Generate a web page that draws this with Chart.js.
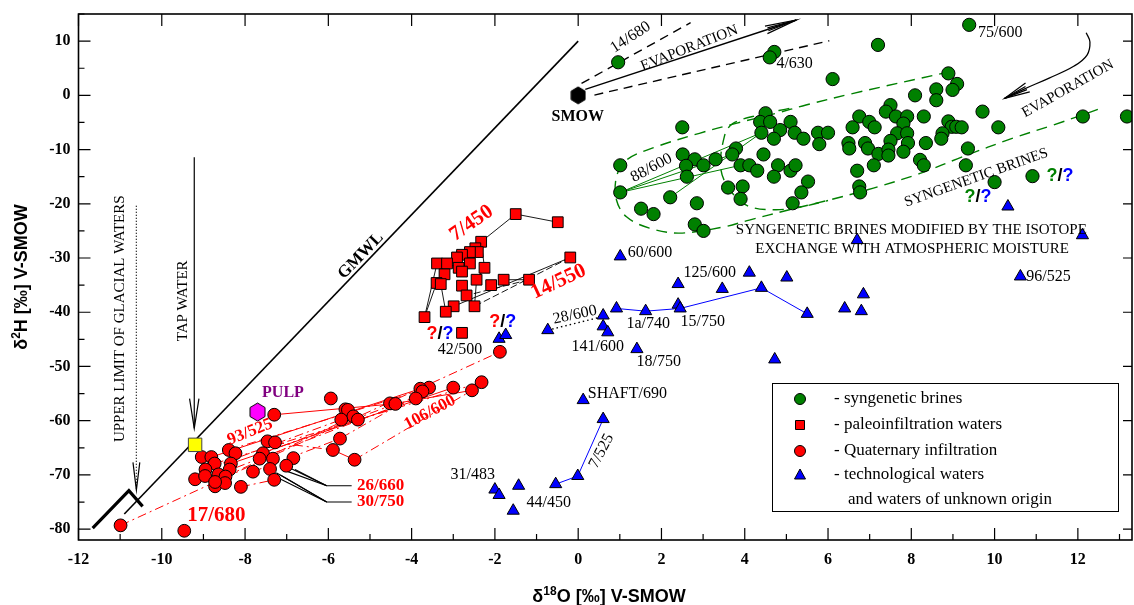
<!DOCTYPE html>
<html><head><meta charset="utf-8">
<script src="https://cdn.jsdelivr.net/npm/chart.js@4.4.1/dist/chart.umd.min.js"></script>
<style>html,body{margin:0;padding:0;background:#fff;overflow:hidden}canvas{display:block}</style>
</head><body>
<canvas id="c" width="1134" height="605"></canvas>
<script>
// ---------- tick labels ----------
const xTicks = [-12,-10,-8,-6,-4,-2,0,2,4,6,8,10,12];
const yTicks = [-80,-70,-60,-50,-40,-30,-20,-10,0,10];

// ---------- series values [d18O, d2H] ----------
const syngeneticBrines = [
 [0.96,6.1],[4.71,8.0],[4.60,7.0],[9.39,13.0],[7.20,9.3],[6.11,3.0],
 [4.50,-3.3],[4.37,-4.9],[4.61,-4.9],[5.10,-4.9],[2.50,-5.9],[4.40,-6.9],[4.85,-6.4],[4.70,-8.0],
 [5.20,-6.9],[5.41,-8.0],[5.76,-6.9],[6.00,-6.9],[5.79,-9.0],[3.79,-9.8],[3.70,-10.9],[3.30,-11.8],
 [4.45,-10.9],[2.51,-10.9],[2.80,-11.8],[3.01,-12.9],[2.59,-13.0],[2.61,-15.0],[3.90,-12.9],[4.11,-12.9],
 [4.30,-13.9],[4.80,-12.9],[4.70,-15.0],[5.10,-13.9],[5.22,-12.9],[5.52,-15.9],[5.36,-17.9],[5.15,-19.9],
 [3.60,-17.0],[3.95,-16.8],[3.90,-19.1],[1.01,-12.9],[1.01,-17.9],[2.21,-18.8],[2.85,-19.9],[1.51,-20.9],
 [1.81,-21.9],[2.80,-23.8],[3.01,-25.0],
 [6.75,-3.9],[6.59,-5.9],[6.99,-4.9],[6.49,-8.8],[6.51,-9.8],[6.89,-8.8],[6.96,-9.8],[6.70,-13.9],
 [6.75,-16.8],[6.77,-17.9],
 [8.89,4.05],[9.10,2.1],[8.99,1.0],[8.60,1.1],[8.60,-0.9],[8.09,0.0],[7.50,-1.8],[7.39,-3.0],[7.63,-3.9],
 [7.90,-3.9],[8.30,-3.9],[7.12,-5.9],[7.81,-5.2],[8.89,-4.8],[8.97,-5.8],[9.08,-5.8],[9.21,-5.9],[9.71,-3.0],
 [10.09,-5.9],[12.12,-3.9],[13.18,-3.9],[7.66,-7.0],[7.90,-7.0],[7.50,-8.4],[7.92,-8.8],[7.21,-10.8],
 [7.45,-10.0],[7.45,-11.1],[7.81,-10.4],[8.35,-8.8],[8.75,-7.0],[8.72,-8.0],[9.36,-9.8],[8.21,-11.9],
 [8.30,-12.9],[7.10,-12.9],[9.31,-12.9],[10.00,-16.0],[10.91,-14.9]
];
const paleoinfiltrationWaters = [
 [-1.50,-21.9],[-0.49,-23.4],[-0.19,-29.9],[-2.33,-27.0],[-2.47,-28.2],[-2.41,-28.9],[-2.60,-28.9],
 [-2.79,-29.4],[-2.91,-29.9],[-3.39,-31.0],[-3.15,-31.0],[-2.60,-31.0],[-2.87,-31.8],[-2.25,-31.8],
 [-2.79,-32.5],[-3.21,-33.0],[-2.44,-34.0],[-3.40,-34.6],[-3.30,-34.8],[-2.79,-35.1],[-2.09,-35.0],
 [-1.79,-34.0],[-1.18,-34.0],[-2.68,-36.9],[-2.99,-38.9],[-2.49,-38.9],[-3.18,-39.9],[-3.69,-40.9],
 [-2.79,-43.8]
];
const quaternaryInfiltration = [
 [-7.30,-58.9],[-5.94,-55.9],[-5.59,-57.9],[-5.53,-58.0],[-5.40,-59.2],[-5.29,-59.8],[-5.69,-59.8],
 [-4.52,-56.8],[-4.39,-56.9],[-5.72,-63.3],[-5.89,-65.4],[-5.37,-67.2],[-8.39,-65.4],[-8.23,-66.0],
 [-7.46,-63.8],[-7.28,-64.0],[-7.57,-66.0],[-7.65,-67.0],[-7.33,-67.0],[-6.84,-66.9],[-7.01,-68.3],
 [-7.40,-68.9],[-7.81,-69.4],[-7.30,-70.9],[-8.10,-72.2],[-9.04,-66.7],[-8.81,-66.7],[-8.73,-67.9],
 [-8.95,-69.0],[-8.34,-67.9],[-8.37,-69.0],[-9.20,-70.8],[-8.96,-70.2],[-8.64,-69.9],[-8.47,-70.3],
 [-8.72,-72.1],[-8.48,-71.5],[-8.72,-71.3],[-9.46,-80.3],[-10.99,-79.3],[-1.88,-47.3],[-2.32,-52.9],
 [-2.55,-54.4],[-3.00,-53.9],[-3.58,-53.9],[-3.79,-54.1],[-3.74,-54.6],[-3.90,-55.9]
];
const technologicalWaters = [
 [1.01,-29.7],[2.40,-34.8],[3.46,-35.7],[4.11,-32.7],[5.01,-33.6],[4.40,-35.5],[5.50,-40.3],[6.40,-39.3],
 [6.85,-36.7],[6.80,-39.8],[0.92,-39.3],[1.62,-39.8],[2.40,-38.6],[2.45,-39.3],[0.60,-40.6],[0.60,-42.6],
 [0.71,-43.7],[1.41,-46.8],[4.72,-48.7],[6.70,-26.7],[10.32,-20.5],[12.11,-25.8],[10.62,-33.4],
 [-1.90,-44.9],[-1.74,-44.2],[-0.73,-43.3],[0.12,-56.2],[0.60,-59.7],[-0.01,-70.2],[-0.54,-71.7],
 [-1.43,-72.0],[-2.00,-72.7],[-1.90,-73.7],[-1.56,-76.6]
];
const tapWater = [[-9.20,-64.45]];
const pulp = [[-7.70,-58.4]];
const smow = [[0,0]];

// ---------- reference lines and links ----------
const gmwl = [[-10.9,-77.2],[0,10]];
const glacialBracket = [[-11.66,-79.8],[-10.79,-72.9],[-10.46,-75.8]];
const tapArrow = [[-9.22,-11.4],[-9.22,-61.4]];
const glacialArrow = [[-10.61,-20.35],[-10.61,-72.8]];
const evapArrow = [[0.17,1.1],[5.24,13.9]];
const evapDashUpper = [[0.08,2.2],[2.70,13.4]];
const evapDashLower = [[0.39,0.05],[6.03,10.06]];
const evapCurve = [[12.20,11.54],[12.29,9.82],[12.22,7.43],[11.91,5.40],[11.31,3.19],[10.71,1.16],[10.24,-0.55]];
const envelopeOuter = [[8.93,4.35],[6.61,0.37],[5.47,-1.79],[4.75,-3.32],[3.79,-5.16],[2.91,-7.0],[1.88,-9.47],
 [1.16,-11.92],[0.92,-15.0],[0.92,-19.3],[1.16,-22.4],[1.71,-24.5],[2.43,-25.4],[3.47,-24.3],[4.11,-23.0],
 [5.07,-21.1],[6.03,-19.3],[7.09,-17.1],[8.21,-14.4],[9.24,-11.3],[10.44,-7.9],[11.40,-5.5],[12.48,-2.6]];
const envelopeInner = [[5.07,-2.4],[4.35,-3.6],[3.71,-5.2],[3.51,-7.6],[3.43,-13.8],[3.71,-18.1],[4.11,-20.5],
 [4.75,-21.1],[5.39,-20.5],[6.0,-19.4]];
const brineLinks = [
 [[1.01,-17.9],[4.40,-6.9]],[[1.01,-17.9],[3.70,-10.9]],[[1.01,-17.9],[3.90,-12.9]],[[2.21,-18.8],[4.40,-6.9]]
];
const paleoSolidLinks = [
 [[-2.33,-27.0],[-1.50,-21.9],[-0.49,-23.4]],[[-0.19,-29.9],[-2.99,-38.9]],[[-1.18,-34.0],[-1.79,-34.0]],
 [[-3.69,-40.9],[-3.40,-34.6],[-3.21,-33.0]],[[-3.69,-40.9],[-3.39,-31.0]],[[-3.18,-39.9],[-3.30,-34.8]],
 [[-2.49,-38.9],[-2.44,-34.0],[-2.25,-31.8],[-2.33,-27.0]],[[-3.39,-31.0],[-3.15,-31.0],[-2.87,-31.8]],
 [[-2.79,-35.1],[-2.68,-36.9]]
];
const paleoDashedLinks = [[[-0.19,-29.9],[-2.49,-38.9]],[[-1.18,-34.0],[-2.68,-36.9]]];
const quatSolidLinks = [
 [[-7.30,-58.9],[-4.45,-56.9],[-2.55,-54.4]],[[-8.81,-66.7],[-3.79,-54.1]],[[-8.34,-67.9],[-3.00,-53.9]],
 [[-5.89,-65.4],[-5.37,-67.2]],[[-5.53,-58.0],[-5.29,-59.8]]
];
const quatDashedLinks = [
 [[-10.99,-79.3],[-1.88,-47.3]],[[-8.39,-65.4],[-3.58,-53.9]],[[-8.73,-67.9],[-2.32,-52.9]],
 [[-8.64,-69.9],[-3.90,-55.9]],[[-8.47,-70.3],[-5.40,-59.2]],[[-7.28,-64.0],[-5.89,-65.4]],
 [[-5.37,-67.2],[-2.55,-54.4]],[[-7.81,-69.4],[-5.72,-63.3],[-3.74,-54.6]],[[-8.10,-72.2],[-7.30,-70.9]],
 [[-7.57,-66.0],[-4.39,-56.9]],[[-8.95,-69.0],[-5.69,-59.8]]
];
const techLinks = [
 [[0.92,-39.3],[1.62,-39.8],[2.45,-39.3],[4.40,-35.5],[5.50,-40.3]],[[-0.54,-71.7],[-0.01,-70.2],[0.60,-59.7]]
];
const techDotted = [[-0.73,-43.3],[0.59,-40.8]];
const leaderLines = [
 [[-6.9,-68.8],[-6.04,-72.0],[-5.44,-72.0]],[[-7.0,-69.3],[-6.04,-72.0]],[[-6.8,-69.0],[-6.04,-72.0]],
 [[-7.25,-69.6],[-6.04,-75.0],[-5.44,-75.0]],[[-7.15,-70.0],[-6.04,-75.0]],[[-7.3,-70.2],[-6.04,-75.0]]
];

// ---------- helpers ----------
const P = a => a.map(p => ({x:p[0], y:p[1]}));
function hexImg(w,h,fill,stroke){
  const c=document.createElement('canvas'); c.width=w+2; c.height=h+2;
  const g=c.getContext('2d'); const cx=(w+2)/2, cy=(h+2)/2;
  g.beginPath();
  for(let i=0;i<6;i++){const a=Math.PI/3*i-Math.PI/2; const px=cx+Math.cos(a)*w/2/Math.cos(Math.PI/6), py=cy+Math.sin(a)*h/2;
    if(i===0) g.moveTo(px,py); else g.lineTo(px,py);}
  g.closePath(); g.fillStyle=fill; g.fill(); g.lineWidth=1; g.strokeStyle=stroke; g.stroke();
  return c;
}
function pts(data, style, r, fill, stroke, bw){
  return {data:P(data), pointStyle:style, pointRadius:r, pointBackgroundColor:fill, pointBorderColor:stroke,
    pointBorderWidth:bw===undefined?1:bw, showLine:false, order:1};
}
function line(data, color, width, dash, tension){
  return {data:P(data), showLine:true, pointRadius:0, borderColor:color, borderWidth:width,
    borderDash:dash||[], tension:tension||0, fill:false, order:5};
}
const datasets = [
  pts(smow, hexImg(14,17,'#000','#000'), 9, '#000', '#000'),
  pts(pulp, hexImg(15,18,'#ff00ff','#000'), 9, '#f0f', '#000'),
  pts(tapWater, 'rect', 9.5, '#ffff00', '#444'),
  pts(technologicalWaters, 'triangle', 7, '#0000ff', '#000'),
  pts(quaternaryInfiltration, 'circle', 6.4, '#ff0000', '#000'),
  pts(paleoinfiltrationWaters, 'rect', 7.6, '#ff0000', '#000'),
  pts(syngeneticBrines, 'circle', 6.6, '#008000', '#000'),
  line(gmwl,'#000',1.6),
  line(glacialBracket,'#000',3.2),
  line(tapArrow,'#000',1.2),
  line(glacialArrow,'#000',1.3,[1,2]),
  line(evapArrow,'#000',1.4),
  line(evapDashUpper,'#000',1.4,[9,6]),
  line(evapDashLower,'#000',1.4,[9,6]),
  line(evapCurve,'#000',1.3,[],0.4),
  line(envelopeOuter,'#008000',1.4,[11,7],0.35),
  line(envelopeInner,'#008000',1.4,[11,7],0.35),
  line(techDotted,'#000',1.4,[1.5,3]),
];
brineLinks.forEach(l=>datasets.push(line(l,'#008000',1)));
paleoSolidLinks.forEach(l=>datasets.push(line(l,'#000',0.9)));
paleoDashedLinks.forEach(l=>datasets.push(line(l,'#000',0.9,[7,3])));
quatSolidLinks.forEach(l=>datasets.push(line(l,'#ff0000',1)));
quatDashedLinks.forEach(l=>datasets.push(line(l,'#ff0000',1,[9,4,2,4])));
techLinks.forEach(l=>datasets.push(line(l,'#0000ff',1)));
leaderLines.forEach(l=>datasets.push(line(l,'#000',1.1)));

// ---------- text annotations (data coords) ----------
const SERIF='"Liberation Serif","Times New Roman",serif';
const annotations = [
 {t:'SMOW',x:-0.01,y:-4.0,f:'bold 16px '+SERIF},
 {t:'GMWL',x:-5.22,y:-29.6,r:-46,f:'bold 17px '+SERIF},
 {t:'PULP',x:-7.09,y:-54.9,f:'bold 16px '+SERIF,c:'#800080'},
 {t:'7/450',x:-2.56,y:-23.6,r:-35,f:'bold 21px '+SERIF,c:'#ff0000'},
 {t:'14/550',x:-0.47,y:-34.4,r:-25,f:'bold 21px '+SERIF,c:'#ff0000'},
 {t:'93/525',x:-7.88,y:-62.1,r:-22,f:'bold 17px '+SERIF,c:'#ff0000'},
 {t:'106/600',x:-3.56,y:-58.5,r:-28,f:'bold 17px '+SERIF,c:'#ff0000'},
 {t:'17/680',x:-8.69,y:-77.5,f:'bold 21px '+SERIF,c:'#ff0000'},
 {t:'26/660',x:-5.31,y:-72.0,a:'left',f:'bold 17px '+SERIF,c:'#ff0000'},
 {t:'30/750',x:-5.31,y:-75.0,a:'left',f:'bold 17px '+SERIF,c:'#ff0000'},
 {t:'42/500',x:-2.84,y:-46.9,f:'16px '+SERIF},
 {t:'28/600',x:-0.08,y:-40.5,r:-12,f:'16px '+SERIF},
 {t:'141/600',x:0.47,y:-46.4,f:'16px '+SERIF},
 {t:'60/600',x:1.19,y:-29.1,a:'left',f:'16px '+SERIF},
 {t:'125/600',x:2.53,y:-32.8,a:'left',f:'16px '+SERIF},
 {t:'1a/740',x:1.16,y:-42.1,a:'left',f:'16px '+SERIF},
 {t:'15/750',x:2.46,y:-41.8,a:'left',f:'16px '+SERIF},
 {t:'18/750',x:1.40,y:-49.1,a:'left',f:'16px '+SERIF},
 {t:'96/525',x:10.76,y:-33.5,a:'left',f:'16px '+SERIF},
 {t:'SHAFT/690',x:0.23,y:-55.0,a:'left',f:'16px '+SERIF},
 {t:'31/483',x:-2.53,y:-70.0,f:'16px '+SERIF},
 {t:'44/450',x:-1.24,y:-75.1,a:'left',f:'16px '+SERIF},
 {t:'7/525',x:0.56,y:-65.6,r:-62,f:'16px '+SERIF},
 {t:'14/680',x:1.26,y:10.7,r:-33,f:'16px '+SERIF},
 {t:'EVAPORATION',x:2.67,y:8.7,r:-21.5,f:'15px '+SERIF},
 {t:'4/630',x:4.76,y:5.8,a:'left',f:'16px '+SERIF},
 {t:'75/600',x:9.60,y:11.5,a:'left',f:'16px '+SERIF},
 {t:'EVAPORATION',x:11.76,y:1.2,r:-29.4,f:'15px '+SERIF},
 {t:'88/600',x:1.76,y:-13.4,r:-28,f:'16px '+SERIF},
 {t:'SYNGENETIC BRINES',x:9.56,y:-15.2,r:-19.5,f:'15px '+SERIF},
 {t:'SYNGENETIC BRINES MODIFIED BY THE ISOTOPE',x:8.0,y:-24.9,f:'15px '+SERIF},
 {t:'EXCHANGE WITH ATMOSPHERIC MOISTURE',x:8.02,y:-28.4,f:'15px '+SERIF},
 {t:'UPPER LIMIT OF GLACIAL WATERS',x:-11.0,y:-41.2,r:-90,f:'15px '+SERIF},
 {t:'TAP WATER',x:-9.49,y:-37.9,r:-90,f:'15px '+SERIF},
];
const questionMarks = [
 {x:-3.32,y:-44.0,c1:'#ff0000'},{x:-1.81,y:-41.8,c1:'#ff0000'},
 {x:9.60,y:-18.7,c1:'#008000'},{x:11.57,y:-14.9,c1:'#008000'}
];
const legendItems = [
 {t:'- syngenetic brines',s:'circle',c:'#008000'},
 {t:'- paleoinfiltration waters',s:'rect',c:'#ff0000'},
 {t:'- Quaternary infiltration',s:'circle',c:'#ff0000'},
 {t:'- technological waters',s:'triangle',c:'#0000ff'},
 {t:'and waters of unknown origin',s:null}
];

function arrowHead(ctx, tx, ty, fx, fy, len, angDeg){
  const a=Math.atan2(ty-fy, tx-fx), d=angDeg*Math.PI/180;
  ctx.beginPath();
  ctx.moveTo(tx-len*Math.cos(a-d), ty-len*Math.sin(a-d)); ctx.lineTo(tx,ty);
  ctx.lineTo(tx-len*Math.cos(a+d), ty-len*Math.sin(a+d));
  ctx.stroke();
}

const decor = {
  id:'decor',
  afterDatasetsDraw(chart){
    const ctx=chart.ctx, xs=chart.scales.x, ys=chart.scales.y, ca=chart.chartArea;
    const X=v=>xs.getPixelForValue(v), Y=v=>ys.getPixelForValue(v);
    ctx.save();
    // frame
    ctx.strokeStyle='#000'; ctx.lineWidth=1.6;
    ctx.strokeRect(ca.left, ca.top, ca.right-ca.left, ca.bottom-ca.top);
    ctx.lineWidth=1.2; ctx.beginPath();
    xTicks.forEach(v=>{const px=X(v); ctx.moveTo(px,ca.bottom); ctx.lineTo(px,ca.bottom-12); ctx.moveTo(px,ca.top); ctx.lineTo(px,ca.top+12);});
    for(let v=-11; v<=13; v+=2){const px=X(v); ctx.moveTo(px,ca.bottom); ctx.lineTo(px,ca.bottom-6);}
    yTicks.forEach(v=>{const py=Y(v); ctx.moveTo(ca.left,py); ctx.lineTo(ca.left+12,py); ctx.moveTo(ca.right,py); ctx.lineTo(ca.right-9,py);});
    for(let v=-75; v<=15; v+=10){const py=Y(v); ctx.moveTo(ca.left,py); ctx.lineTo(ca.left+6,py);}
    ctx.stroke();
    // arrow heads
    ctx.lineWidth=1.2;
    arrowHead(ctx, X(tapArrow[1][0]),Y(tapArrow[1][1]), X(tapArrow[0][0]),Y(tapArrow[0][1]), 30, 9);
    arrowHead(ctx, X(glacialArrow[1][0]),Y(glacialArrow[1][1]), X(glacialArrow[0][0]),Y(glacialArrow[0][1]), 28, 7);
    arrowHead(ctx, X(evapArrow[1][0]),Y(evapArrow[1][1]), X(evapArrow[0][0]),Y(evapArrow[0][1]), 32, 7);
    arrowHead(ctx, X(evapArrow[1][0]),Y(evapArrow[1][1]), X(evapArrow[0][0]),Y(evapArrow[0][1]), 30, 3);
    const n=evapCurve.length;
    arrowHead(ctx, X(evapCurve[n-1][0]),Y(evapCurve[n-1][1]), X(evapCurve[n-2][0]),Y(evapCurve[n-2][1]), 26, 11);
    arrowHead(ctx, X(evapCurve[n-1][0]),Y(evapCurve[n-1][1]), X(evapCurve[n-2][0]),Y(evapCurve[n-2][1]), 24, 4);
    // text annotations
    annotations.forEach(o=>{
      ctx.save(); ctx.translate(X(o.x),Y(o.y)); if(o.r) ctx.rotate(o.r*Math.PI/180);
      ctx.font=o.f; ctx.fillStyle=o.c||'#000'; ctx.textAlign=o.a||'center'; ctx.textBaseline='middle';
      ctx.fillText(o.t,0,0); ctx.restore();
    });
    // ?/? marks
    ctx.font='bold 18px "Liberation Sans",Arial,sans-serif'; ctx.textBaseline='middle'; ctx.textAlign='left';
    questionMarks.forEach(q=>{
      const parts=[['?',q.c1],['/','#000'],['?','#0000ff']];
      const w=parts.reduce((s,p)=>s+ctx.measureText(p[0]).width,0);
      let px=X(q.x)-w/2; const py=Y(q.y);
      parts.forEach(p=>{ctx.fillStyle=p[1]; ctx.fillText(p[0],px,py); px+=ctx.measureText(p[0]).width;});
    });
    // legend
    const lx=772, ly=383, lw=346, lh=128;
    ctx.fillStyle='#fff'; ctx.fillRect(lx,ly,lw,lh);
    ctx.strokeStyle='#000'; ctx.lineWidth=1; ctx.strokeRect(lx+0.5,ly+0.5,lw,lh);
    const rows=[399,425,451,475,500];
    ctx.font='17px '+SERIF; ctx.textBaseline='middle'; ctx.textAlign='left';
    legendItems.forEach((it,i)=>{
      const y=rows[i];
      ctx.fillStyle='#000'; ctx.fillText(it.t, it.s?834:848, y);
      if(!it.s) return;
      ctx.fillStyle=it.c; ctx.strokeStyle='#000'; ctx.lineWidth=1; ctx.beginPath();
      if(it.s==='circle') ctx.arc(800,y,5.5,0,Math.PI*2);
      else if(it.s==='rect') ctx.rect(795.5,y-4.5,9,9);
      else {ctx.moveTo(800,y-6); ctx.lineTo(805.5,y+4); ctx.lineTo(794.5,y+4); ctx.closePath();}
      ctx.fill(); ctx.stroke();
    });
    // axis titles
    const SANS='"Liberation Sans",Arial,sans-serif';
    function titled(parts, x, y, rot){
      ctx.save(); ctx.translate(x,y); if(rot) ctx.rotate(rot);
      ctx.fillStyle='#000'; ctx.textBaseline='alphabetic'; ctx.textAlign='left';
      let w=0; parts.forEach(p=>{ctx.font=p[1]?'bold 12px '+SANS:'bold 18px '+SANS; w+=ctx.measureText(p[0]).width;});
      let px=-w/2;
      parts.forEach(p=>{ctx.font=p[1]?'bold 12px '+SANS:'bold 18px '+SANS; ctx.fillText(p[0],px,p[1]?-7:0); px+=ctx.measureText(p[0]).width;});
      ctx.restore();
    }
    titled([['δ',0],['18',1],['O [‰] V-SMOW',0]], 609, 602, 0);
    titled([['δ',0],['2',1],['H [‰] V-SMOW',0]], 27, 277, -Math.PI/2);
    ctx.restore();
  }
};

new Chart(document.getElementById('c'), {
  type:'scatter',
  data:{datasets},
  options:{
    responsive:false, animation:false, devicePixelRatio:1, events:[],
    layout:{autoPadding:false, padding:{top:14,right:2,left:0,bottom:0}},
    plugins:{legend:{display:false},tooltip:{enabled:false}},
    scales:{
      x:{type:'linear',position:'bottom',min:-12,max:13.3,
        afterBuildTicks:s=>{s.ticks=xTicks.map(v=>({value:v}));},
        afterFit:s=>{s.height=65; s.paddingLeft=0; s.paddingRight=0;},
        grid:{display:false,drawTicks:false},border:{display:false},
        ticks:{autoSkip:false,maxRotation:0,padding:10,color:'#000',font:{family:'"Liberation Serif"',weight:'bold',size:16},callback:v=>String(v)}},
      y:{type:'linear',position:'left',min:-82,max:15,
        afterBuildTicks:s=>{s.ticks=yTicks.map(v=>({value:v}));},
        afterFit:s=>{s.width=78.5; s.paddingTop=0; s.paddingBottom=0;},
        grid:{display:false,drawTicks:false},border:{display:false},
        ticks:{autoSkip:false,padding:8,color:'#000',font:{family:'"Liberation Serif"',weight:'bold',size:16},callback:v=>String(v)}}
    }
  },
  plugins:[decor]
});
</script>
</body></html>
